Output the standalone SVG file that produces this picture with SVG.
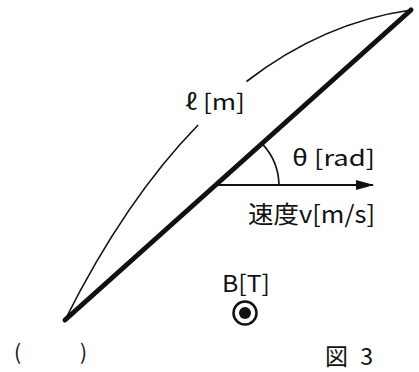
<svg xmlns="http://www.w3.org/2000/svg" width="419" height="372" viewBox="0 0 419 372">
<style>
.t{font-family:"Noto Sans CJK JP","DejaVu Sans",sans-serif;fill:#111}
.thin{fill:none;stroke:#111;stroke-width:1.6}
</style>
<defs>
<marker id="ah" markerWidth="18" markerHeight="12" refX="17" refY="6" orient="auto" markerUnits="userSpaceOnUse">
<path d="M0,1 L18,6 L0,11 Z" fill="#111"/>
</marker>
</defs>
<rect width="419" height="372" fill="#fff"/>
<g id="rod">
<line x1="65" y1="320" x2="411" y2="10" stroke="#111" stroke-width="5" stroke-linecap="round"/>
</g>
<g id="connectors">
<path class="thin" d="M65,320 Q125.6,199.2 198.1,125"/>
<path class="thin" d="M246.5,81.5 Q322.9,22.5 411,10"/>
<path class="thin" d="M263,144.6 A62,62 0 0 1 279,185"/>
<line x1="217" y1="185" x2="373" y2="185" stroke="#111" stroke-width="1.8" marker-end="url(#ah)"/>
</g>
<g id="labels">
<text class="t" x="185" y="110" font-size="22" textLength="60" lengthAdjust="spacingAndGlyphs">ℓ [m]</text>
<text class="t" x="292" y="166" font-size="22" textLength="83" lengthAdjust="spacingAndGlyphs">θ [rad]</text>
<text class="t" x="248" y="223" font-size="24" textLength="127" lengthAdjust="spacingAndGlyphs">速度v[m/s]</text>
<text class="t" x="222" y="292" font-size="23" textLength="48" lengthAdjust="spacingAndGlyphs">B[T]</text>
<text class="t" x="14" y="360" font-size="21">(</text>
<text class="t" x="80" y="360" font-size="21">)</text>
<text class="t" x="325" y="365" font-size="23" textLength="48" lengthAdjust="spacing">図3</text>
</g>
<g id="field">
<circle cx="245" cy="313" r="11.5" fill="none" stroke="#111" stroke-width="2.5"/>
<circle cx="245" cy="313" r="6" fill="#111"/>
</g>
</svg>
